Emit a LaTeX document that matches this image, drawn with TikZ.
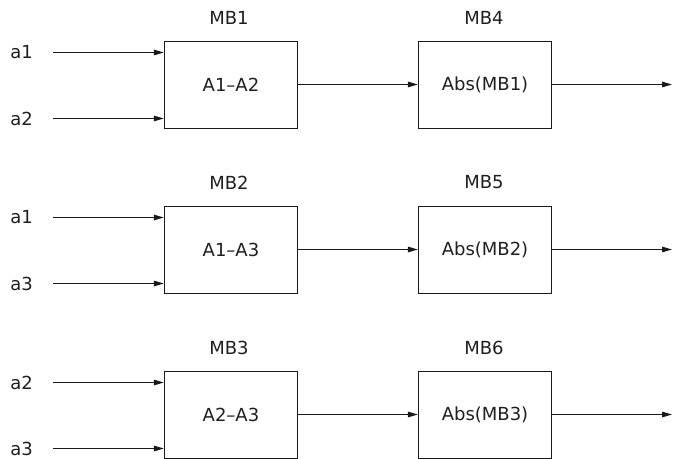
\documentclass[tikz,border=0pt]{standalone}
\usepackage{fontspec}
\setmainfont{DejaVu Sans}
\usetikzlibrary{arrows.meta}
\begin{document}
\begin{tikzpicture}[x=1bp,y=-1bp,
  every node/.style={font=\fontsize{18bp}{21bp}\selectfont, text=black!88, inner sep=0pt},
  blockbox/.style={draw=black!90, line width=1.3bp, minimum width=133bp, minimum height=87bp},
  sig/.style={draw=black!90, line width=1.3bp, -{Triangle[length=10bp,width=5.5bp]}}]
\useasboundingbox (0,0) rectangle (680,459);
\foreach \r/\dy/\ia/\ib/\op/\ma/\mb/\absarg in {0/0/a1/a2/A1--A2/MB1/MB4/MB1, 1/165/a1/a3/A1--A3/MB2/MB5/MB2, 2/330/a2/a3/A2--A3/MB3/MB6/MB3}{
  \begin{scope}[yshift=-\dy bp]
    % difference block and its absolute-value block
    \node[blockbox] (d\r) at (231,85) {\op};
    \node[blockbox] (m\r) at (485,85) {Abs(\absarg)};
    \node (td\r) at (229,17.5) {\ma};
    \node (tm\r) at (484,17.5) {\mb};
    % input signals
    \node (la\r) at (21.5,52.5) {\ia};
    \node (lb\r) at (21.5,118.5) {\ib};
    \coordinate (sa\r) at (53,52.5);
    \coordinate (sb\r) at (53,118.5);
    \coordinate (out\r) at (672,84.5);
    \draw[sig] (sa\r) -- (sa\r -| d\r.west);
    \draw[sig] (sb\r) -- (sb\r -| d\r.west);
    \draw[sig] (d\r.east |- out\r) -- (m\r.west |- out\r);
    \draw[sig] (m\r.east |- out\r) -- (out\r);
  \end{scope}
}
\end{tikzpicture}
\end{document}
